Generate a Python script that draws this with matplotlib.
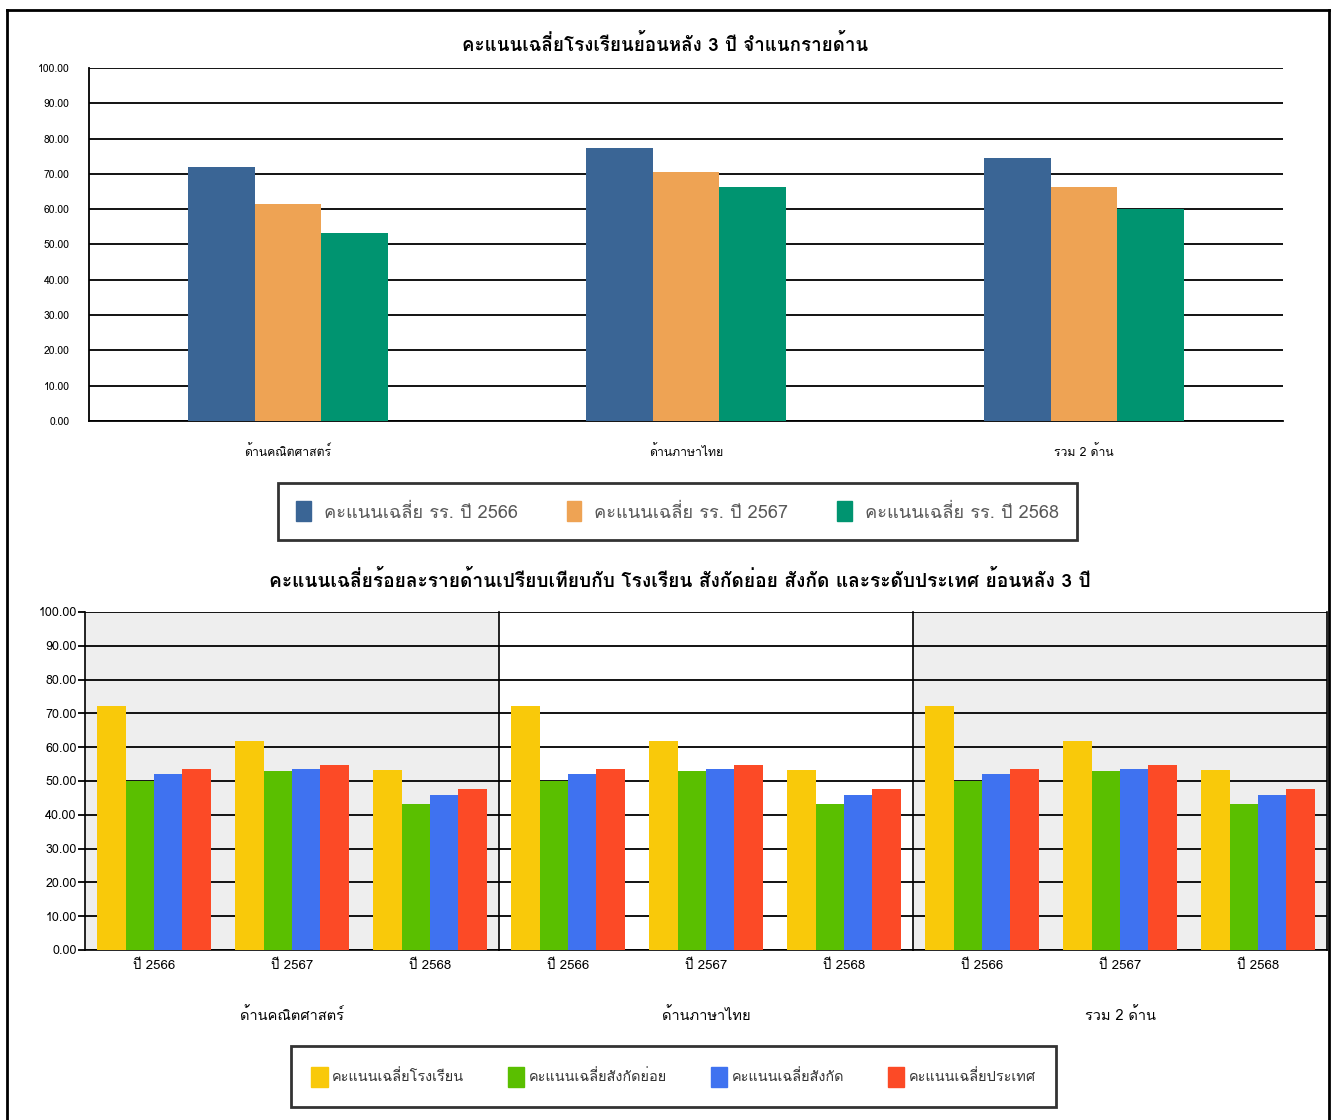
import numpy as np
import matplotlib
matplotlib.use('Agg')
import matplotlib.pyplot as plt
from matplotlib import font_manager as fm
from matplotlib.ft2font import FT2Font
from matplotlib.patches import Patch
from matplotlib.lines import Line2D

# --- data ---
subjects = ['ด้านคณิตศาสตร์', 'ด้านภาษาไทย', 'รวม 2 ด้าน']
years = ['ปี 2566', 'ปี 2567', 'ปี 2568']

top_series = ['คะแนนเฉลี่ย รร. ปี 2566', 'คะแนนเฉลี่ย รร. ปี 2567', 'คะแนนเฉลี่ย รร. ปี 2568']
top_2566 = [72.0, 77.3, 74.5]
top_2567 = [61.5, 70.5, 66.3]
top_2568 = [53.3, 66.3, 60.1]

bottom_series = ['คะแนนเฉลี่ยโรงเรียน', 'คะแนนเฉลี่ยสังกัดย่อย', 'คะแนนเฉลี่ยสังกัด', 'คะแนนเฉลี่ยประเทศ']
school = [72.2, 61.8, 53.3]
sub_area = [50.0, 53.0, 43.2]
area = [52.1, 53.6, 45.9]
national = [53.6, 54.8, 47.6]

TOP_COLORS = ['#3a6595', '#eea354', '#009470']
BOT_COLORS = ['#f9c90a', '#5abf00', '#3f72f0', '#fc4a26']
PANEL_BG = ['#eeeeee', 'white', '#eeeeee']


def thai_fonts():
    # families that actually contain Thai glyphs
    found = set()
    for f in fm.fontManager.ttflist:
        try:
            if FT2Font(f.fname).get_char_index(0x0E01):
                found.add(f.name)
        except Exception:
            pass
    return found


found = thai_fonts()
prefs = ['Tahoma', 'Leelawadee UI', 'Loma', 'Noto Sans Thai', 'Garuda', 'Sarabun', 'IBM Plex Sans Thai']
thai_font = next((p for p in prefs if p in found), 'DejaVu Sans')
plt.rcParams['font.family'] = [thai_font, 'DejaVu Sans']

fig = plt.figure(figsize=(13.36, 11.2), dpi=100)

# outer frame
for xs, ys in [([0.0052, 0.0052], [0.0, 0.991]), ([0.0052, 0.9948], [0.991, 0.991]),
               ([0.9948, 0.9948], [0.991, 0.0])]:
    fig.add_artist(Line2D(xs, ys, color='black', lw=2.0, transform=fig.transFigure))

# --- top chart ---
ax1 = fig.add_axes([0.0666, 0.6241, 0.8937, 0.3152])
x = np.arange(len(subjects))
w = 0.1675
for i, vals in enumerate([top_2566, top_2567, top_2568]):
    ax1.bar(x + (i - 1) * w, vals, width=w, color=TOP_COLORS[i], label=top_series[i], zorder=3)
ax1.set_xlim(-0.5, 2.5)
ax1.set_ylim(0, 100)
ax1.set_yticks(np.arange(0, 101, 10))
ax1.set_yticklabels([f'{v:.2f}' for v in np.arange(0, 101, 10)], fontsize=7.5)
ax1.set_xticks(x)
ax1.set_xticklabels(subjects, fontsize=8.8)
ax1.tick_params(axis='y', length=0, pad=14)
ax1.tick_params(axis='x', length=0, pad=17)
ax1.yaxis.grid(True, color='black', lw=1.3, zorder=0)
ax1.set_axisbelow(True)
for s in ['top', 'right']:
    ax1.spines[s].set_visible(False)
ax1.spines['left'].set_linewidth(1.3)
ax1.spines['bottom'].set_linewidth(1.3)
fig.text(0.498, 0.960, 'คะแนนเฉลี่ยโรงเรียนย้อนหลัง 3 ปี จำแนกรายด้าน', ha='center', va='center',
         fontsize=13.5, fontweight='bold')

leg1 = fig.legend(handles=[Patch(color=c, label=l) for c, l in zip(TOP_COLORS, top_series)],
                  loc='center', bbox_to_anchor=(0.2081, 0.5433, 0.598, 0.0), mode='expand',
                  borderaxespad=0, ncol=3, fontsize=13.1,
                  frameon=True, fancybox=False, edgecolor='black', handlelength=0.8,
                  handleheight=1.3, borderpad=1.0, handletextpad=0.7)
leg1.get_frame().set_linewidth(2.0)
for t in leg1.get_texts():
    t.set_color('#595959')

# --- bottom chart ---
fig.text(0.509, 0.482, 'คะแนนเฉลี่ยร้อยละรายด้านเปรียบเทียบกับ โรงเรียน สังกัดย่อย สังกัด และระดับประเทศ ย้อนหลัง 3 ปี',
         ha='center', va='center', fontsize=13.8, fontweight='bold')

pw = 0.3099
bw = 0.205
xg = np.arange(len(years))
for p, subj in enumerate(subjects):
    ax = fig.add_axes([0.0636 + p * pw, 0.1518, pw, 0.3018])
    ax.set_facecolor(PANEL_BG[p])
    for i, vals in enumerate([school, sub_area, area, national]):
        ax.bar(xg + (i - 1.5) * bw, vals, width=bw, color=BOT_COLORS[i], label=bottom_series[i], zorder=3)
    ax.set_xlim(-0.5, 2.5)
    ax.set_ylim(0, 100)
    ax.set_yticks(np.arange(0, 101, 10))
    ax.set_xticks(xg)
    ax.set_xticklabels(years, fontsize=9.5)
    ax.tick_params(axis='x', length=0, pad=7)
    ax.yaxis.grid(True, color='black', lw=1.3, zorder=0)
    ax.set_axisbelow(True)
    ax.spines['top'].set_visible(False)
    ax.spines['right'].set_visible(p == 2)
    for s in ['left', 'bottom', 'right']:
        ax.spines[s].set_linewidth(1.2)
    if p == 0:
        ax.set_yticklabels([f'{v:.2f}' for v in np.arange(0, 101, 10)], fontsize=9)
        ax.tick_params(axis='y', length=5, width=1.3, pad=1)
    else:
        ax.tick_params(axis='y', length=0, labelleft=False)
    ax.text(0.5, -0.192, subj, transform=ax.transAxes, ha='center', va='center', fontsize=10.5)

leg2 = fig.legend(handles=[Patch(color=c, label=l) for c, l in zip(BOT_COLORS, bottom_series)],
                  loc='center', bbox_to_anchor=(0.2178, 0.0388, 0.5726, 0.0), mode='expand',
                  borderaxespad=0, ncol=4, fontsize=10.4,
                  frameon=True, fancybox=False, edgecolor='black', handlelength=1.15,
                  handleheight=1.75, borderpad=1.4, handletextpad=0.3)
leg2.get_frame().set_linewidth(2.0)
for t in leg2.get_texts():
    t.set_color('#333333')

fig.savefig('out.png', dpi=100)
